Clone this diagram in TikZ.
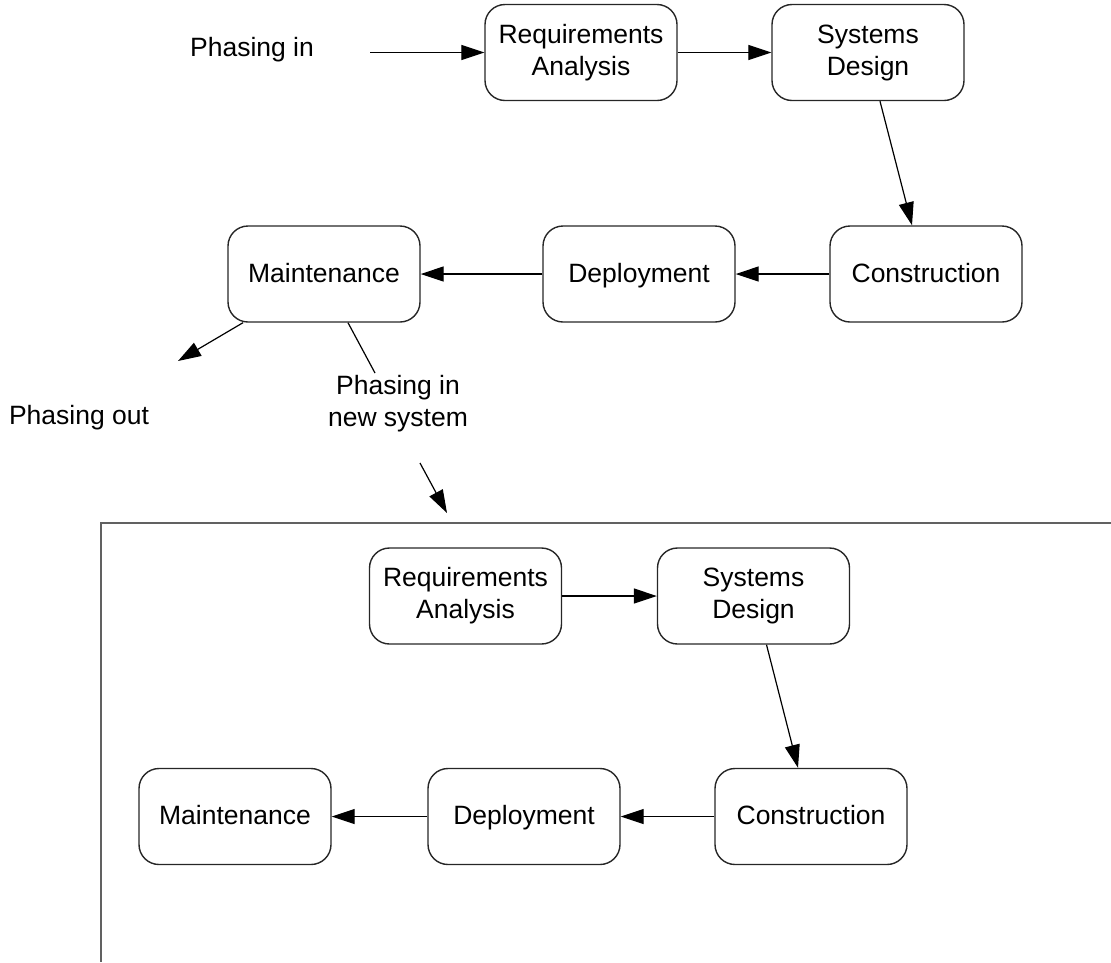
\documentclass[tikz,border=0pt]{standalone}
\usepackage{fontspec}
\setmainfont{Liberation Sans}
\usetikzlibrary{arrows.meta}
\begin{document}
\begin{tikzpicture}[x=1pt,y=-1pt,
  phase/.style={draw=black!85,line width=1.4pt,rounded corners=20pt,
    minimum width=192pt,minimum height=96pt,inner sep=0pt,align=center,
    font=\fontsize{26.5}{32}\selectfont},
  oneline/.style={phase,text height=20pt,text depth=4pt},
  lbl/.style={align=center,font=\fontsize{26.5}{32}\selectfont},
  flow/.style={line width=1.2pt,-{Triangle[length=23pt,width=15pt]}},
  plain/.style={line width=1.2pt}]
\useasboundingbox (0,0) rectangle (1111,962);

% first system life cycle
\node[lbl] (pin) at (252,50) {Phasing in};
\node[phase]   (ra)  at (581,52.5) {Requirements\\Analysis};
\node[phase]   (sd)  at (868,52.5) {Systems\\Design};
\node[oneline] (con) at (926,274) {Construction};
\node[oneline] (dep) at (639,274) {Deployment};
\node[oneline] (mai) at (324,274) {Maintenance};
\node[lbl] (pout) at (79,418) {Phasing out};
\node[lbl] (pnew) at (398,404) {Phasing in\\new system};

\coordinate (pinstart) at (370,52.5);
\coordinate (outtip) at (178,361);
\coordinate (newtop) at (375,373);
\coordinate (newstart) at (420,463);
\coordinate (newtip) at (447,513);

\draw[flow] (pinstart) -- (ra.west);
\draw[flow] (ra.east) -- (sd.west);
\draw[flow] ([xshift=12pt]sd.south) -- ([xshift=-14pt]con.north);
\draw[flow] (con.west) -- (dep.east);
\draw[flow] (dep.west) -- (mai.east);
\draw[flow] ([xshift=-81pt]mai.south) -- (outtip);
\draw[plain] ([xshift=24pt]mai.south) -- (newtop);
\draw[flow] (newstart) -- (newtip);

% frame of the new system
\draw[line width=1.5pt,draw=black!62] (1111,523) -- (101,523) -- (101,962);

% new system life cycle
\node[phase]   (ra2)  at (465.5,596) {Requirements\\Analysis};
\node[phase]   (sd2)  at (753.5,596) {Systems\\Design};
\node[oneline] (con2) at (811,816.5) {Construction};
\node[oneline] (dep2) at (524,816.5) {Deployment};
\node[oneline] (mai2) at (235,816.5) {Maintenance};

\draw[flow] (ra2.east) -- (sd2.west);
\draw[flow] ([xshift=13pt]sd2.south) -- ([xshift=-13pt]con2.north);
\draw[flow] (con2.west) -- (dep2.east);
\draw[flow] (dep2.west) -- (mai2.east);
\end{tikzpicture}
\end{document}
